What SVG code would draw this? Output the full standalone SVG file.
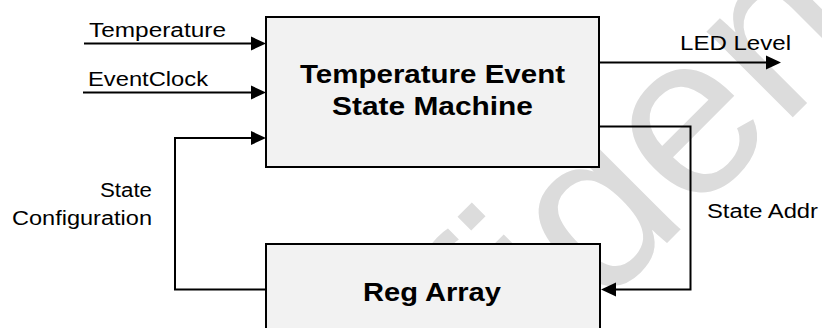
<svg xmlns="http://www.w3.org/2000/svg" width="822" height="328" viewBox="0 0 822 328">
<style>
.box{fill:#f2f2f2;stroke:#000;stroke-width:2}
.wire{fill:none;stroke:#000;stroke-width:2}
.lbl{font-family:"Liberation Sans",Arial,sans-serif;font-size:20px;fill:#000}
.ttl{font-family:"Liberation Sans",Arial,sans-serif;font-size:25px;font-weight:bold;fill:#000}
.wm{font-family:"Liberation Sans",Arial,sans-serif;font-size:230px;fill:#dcdcdc}
</style>
<defs>
<marker id="arr" markerUnits="userSpaceOnUse" markerWidth="16" markerHeight="16" refX="5" refY="7" orient="auto" viewBox="0 0 16 14">
<path d="M0,0 L15,7 L0,14 z" fill="#000"/>
</marker>
</defs>
<rect width="822" height="328" fill="#fff"/>
<text class="wm" transform="translate(221,689) rotate(-45)">Confidential</text>
<g id="tesm">
<rect class="box" x="266" y="17" width="333" height="150"/>
<text class="ttl" x="300" y="83" textLength="265" lengthAdjust="spacingAndGlyphs">Temperature Event</text>
<text class="ttl" x="332" y="115" textLength="201" lengthAdjust="spacingAndGlyphs">State Machine</text>
</g>
<g id="regarray">
<rect class="box" x="266" y="244" width="334" height="100"/>
<text class="ttl" x="363" y="301" textLength="138" lengthAdjust="spacingAndGlyphs">Reg Array</text>
</g>
<g id="connectors">
<path class="wire" d="M84,43.5 H256" marker-end="url(#arr)"/>
<path class="wire" d="M83,92.5 H256" marker-end="url(#arr)"/>
<path class="wire" d="M266,289.5 H175 V138 H256" marker-end="url(#arr)"/>
<path class="wire" d="M599,62.5 H771" marker-end="url(#arr)"/>
<path class="wire" d="M599,126.5 H690.5 V289.5 H611" marker-end="url(#arr)"/>
</g>
<g id="labels">
<text class="lbl" x="89" y="37" textLength="137" lengthAdjust="spacingAndGlyphs">Temperature</text>
<text class="lbl" x="88" y="86" textLength="120" lengthAdjust="spacingAndGlyphs">EventClock</text>
<text class="lbl" x="680" y="50" textLength="111" lengthAdjust="spacingAndGlyphs">LED Level</text>
<text class="lbl" x="707" y="218" textLength="111" lengthAdjust="spacingAndGlyphs">State Addr</text>
<text class="lbl" x="100" y="197" textLength="52" lengthAdjust="spacingAndGlyphs">State</text>
<text class="lbl" x="12" y="225" textLength="140" lengthAdjust="spacingAndGlyphs">Configuration</text>
</g>
</svg>
